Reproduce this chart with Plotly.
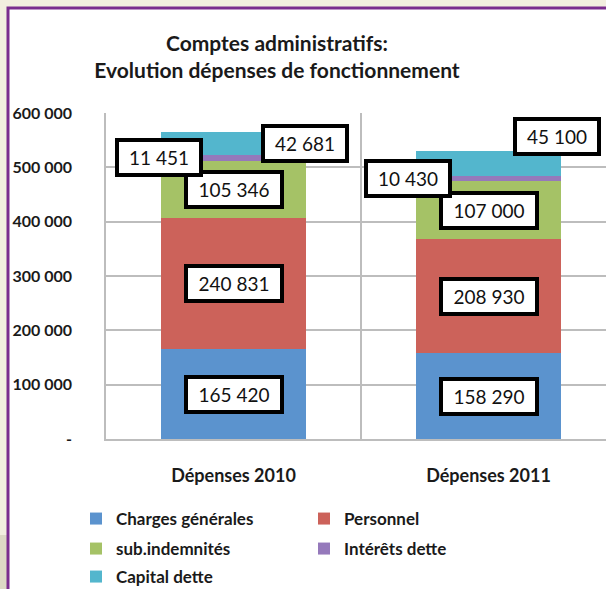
import plotly.graph_objects as go

categories = ["Dépenses 2010", "Dépenses 2011"]
series_names = ["Charges générales", "Personnel", "sub.indemnités", "Intérêts dette", "Capital dette"]
charges_generales = [165420, 158290]
personnel = [240831, 208930]
sub_indemnites = [105346, 107000]
interets_dette = [11451, 10430]
capital_dette = [42681, 45100]
y_tickvals = [0, 100000, 200000, 300000, 400000, 500000, 600000]
y_ticktext = ["-", "100 000", "200 000", "300 000", "400 000", "500 000", "600 000"]

series_values = [charges_generales, personnel, sub_indemnites, interets_dette, capital_dette]
colors = ["#5B93CE", "#CC625A", "#A5C266", "#9579BB", "#53B6CD"]
legend_rows = ["legend", "legend", "legend2", "legend2", "legend3"]

W, H = 606, 589
ML, MR, MT, MB = 106, 0, 113, 150
PW = W - ML - MR
PH = H - MT - MB
CAT_PX = 255.0

FONT = "Lato"

fig = go.Figure()
for name, vals, col, lg in zip(series_names, series_values, colors, legend_rows):
    fig.add_trace(go.Bar(
        x=categories, y=vals, name=name, marker=dict(color=col, line=dict(width=0)),
        width=0.57, legend=lg,
    ))

def fmt(v):
    return f"{v:,}".replace(",", " ")

# label offsets (pixels) per series index, per category
offsets = {
    3: [(-75, 0), (-81, 0)],
    4: [(71, 0), (68, 27)],
}

annotations = []
for ci, cat in enumerate(categories):
    base = 0
    for si, vals in enumerate(series_values):
        v = vals[ci]
        mid = base + v / 2
        base += v
        dx, dy = offsets.get(si, [(0, 0), (0, 0)])[ci]
        txt = fmt(v)
        annotations.append(dict(
            x=cat, y=mid, xref="x", yref="y", text=txt, showarrow=False,
            xshift=dx, yshift=dy,
            font=dict(family=FONT, size=19, color="#111111"),
            bgcolor="white", bordercolor="black", borderwidth=4, borderpad=4,
            width=12 * len(txt), height=23,
        ))

def px_x(p):
    return (p - ML) / PW
def px_y(p):
    return (H - MB - p) / PH

shapes = [
    dict(type="rect", xref="paper", yref="paper", layer="below",
         x0=px_x(-5), x1=px_x(7), y0=px_y(535), y1=px_y(H + 5),
         fillcolor="#DDD8C5", line=dict(width=0)),
    dict(type="rect", xref="paper", yref="paper", layer="below",
         x0=px_x(8), x1=px_x(W + 10), y0=px_y(8), y1=px_y(H + 10),
         fillcolor="white", line=dict(color="#7A2C8E", width=3)),
]

leg_common = dict(
    orientation="h", x=76 / W, xref="container", xanchor="left",
    yref="container", yanchor="middle",
    entrywidth=183, entrywidthmode="pixels", traceorder="normal",
    font=dict(family=FONT, size=17, color="#1a1a1a", weight="bold"),
    bgcolor="rgba(0,0,0,0)", borderwidth=0,
)

fig.update_layout(
    width=W, height=H,
    margin=dict(l=ML, r=MR, t=MT, b=MB, pad=0, autoexpand=False),
    paper_bgcolor="#F2EEDF",
    plot_bgcolor="rgba(0,0,0,0)",
    barmode="stack",
    title=dict(
        text="Comptes administratifs:<br>Evolution dépenses de fonctionnement",
        x=277 / W, xref="container", xanchor="center",
        y=1 - 51 / H, yref="container", yanchor="middle",
        font=dict(family=FONT, size=21, color="#1a1a1a", weight="bold"),
    ),
    xaxis=dict(
        type="category", range=[-0.5, -0.5 + PW / CAT_PX],
        tickson="boundaries", showgrid=True, gridcolor="#BDBDBD", gridwidth=1.5,
        ticks="", showline=True, linecolor="#BDBDBD", linewidth=1.5,
        tickfont=dict(family=FONT, size=18, color="#1a1a1a", weight="bold"),
        ticklabelstandoff=20, zeroline=False,
    ),
    yaxis=dict(
        range=[0, 600000], tickvals=y_tickvals, ticktext=y_ticktext,
        showgrid=True, gridcolor="#BDBDBD", gridwidth=1.5,
        showline=True, linecolor="#BDBDBD", linewidth=1.5,
        zeroline=False, ticks="",
        tickfont=dict(family=FONT, size=16, color="#1a1a1a", weight="bold"),
        ticklabelstandoff=29,
    ),
    legend=dict(leg_common, y=1 - 519 / H),
    legend2=dict(leg_common, y=1 - 549 / H),
    legend3=dict(leg_common, y=1 - 577 / H),
    annotations=annotations,
    shapes=shapes,
    showlegend=True,
)

fig.write_html(
    "out.html",
    config={"displayModeBar": False},
    post_script="document.body.style.margin='0';document.body.style.overflow='hidden';",
)
